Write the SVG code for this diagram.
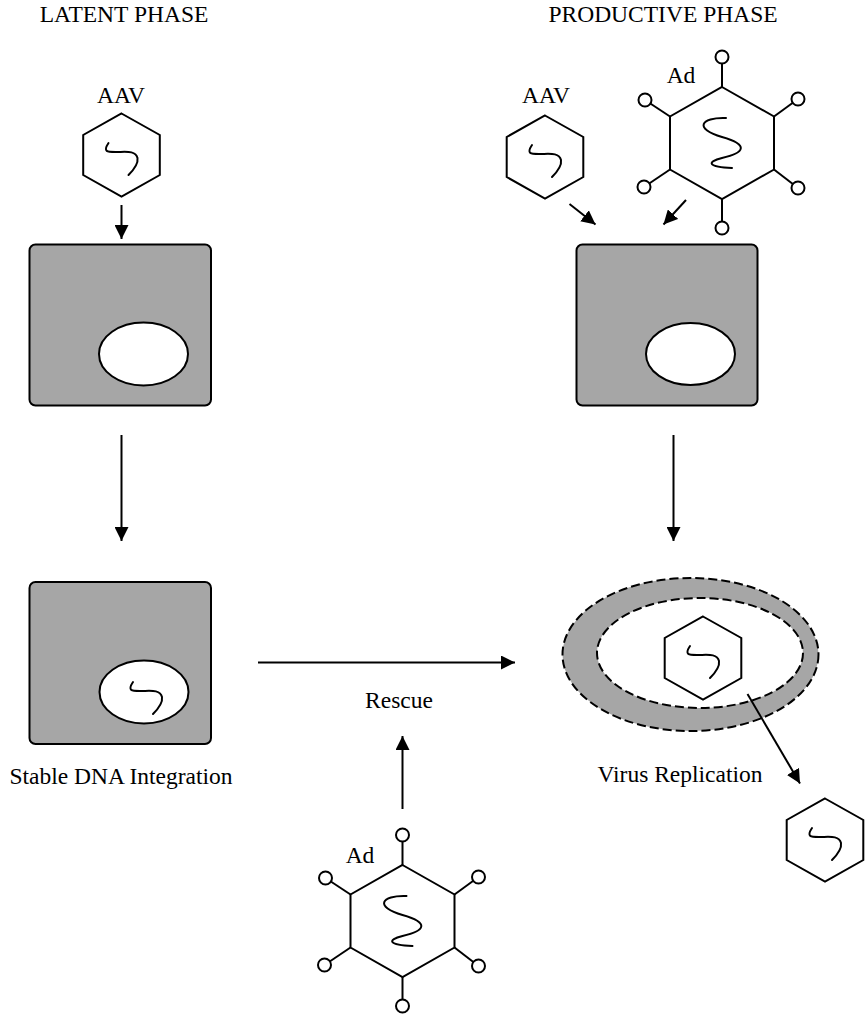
<svg xmlns="http://www.w3.org/2000/svg" xmlns:xlink="http://www.w3.org/1999/xlink" width="865" height="1017" viewBox="0 0 865 1017">
  <style>
    .lbl { font-family: "Liberation Serif", "Times New Roman", serif; font-size: 23.5px; fill: #000; text-anchor: middle; }
    .cell { fill: #a6a6a6; stroke: #000; stroke-width: 2; }
    .nuc { fill: #fff; stroke: #000; stroke-width: 2; }
    .hex { fill: #fff; stroke: #000; stroke-width: 2; }
    .dna { fill: none; stroke: #000; stroke-width: 2; stroke-linecap: round; }
    .knob { fill: #fff; stroke: #000; stroke-width: 2; }
    .stem { stroke: #000; stroke-width: 2; }
    .arrow { stroke: #000; stroke-width: 2; fill: none; marker-end: url(#head); }
    .ring { stroke: #000; stroke-width: 2; stroke-dasharray: 9 4; }
  </style>
  <defs>
    <marker id="head" markerUnits="userSpaceOnUse" markerWidth="16" markerHeight="14" refX="14" refY="7" orient="auto">
      <path d="M0,0 L14,7 L0,14 Z" fill="#000"/>
    </marker>
    <!-- small AAV genome squiggle -->
    <path id="squig" class="dna" d="M-13,-12 C-19,-3 -14,-3 -6,-3 C4,-3 14,-5 16,3 C17,9 12,15 7,20"/>
    <!-- AAV capsid -->
    <g id="aav">
      <polygon class="hex" points="0,-41.5 38.3,-20 38.3,20 0,41.5 -38.3,20 -38.3,-20"/>
      <use xlink:href="#squig"/>
    </g>
    <!-- adenovirus capsid with fibre knobs -->
    <g id="ad">
      <line class="stem" x1="0" y1="-56" x2="0" y2="-86"/>
      <line class="stem" x1="-52" y1="-26.5" x2="-77" y2="-43"/>
      <line class="stem" x1="52" y1="-26.5" x2="76" y2="-44"/>
      <line class="stem" x1="-52" y1="26.5" x2="-78" y2="44"/>
      <line class="stem" x1="52" y1="26.5" x2="76" y2="45"/>
      <line class="stem" x1="0" y1="56" x2="0" y2="85"/>
      <polygon class="hex" points="0,-56 52,-26.5 52,26.5 0,56 -52,26.5 -52,-26.5"/>
      <circle class="knob" cx="0" cy="-86" r="6.5"/>
      <circle class="knob" cx="-77" cy="-43" r="6.5"/>
      <circle class="knob" cx="76" cy="-44" r="6.5"/>
      <circle class="knob" cx="-78" cy="44" r="6.5"/>
      <circle class="knob" cx="76" cy="45" r="6.5"/>
      <circle class="knob" cx="0" cy="85" r="6.5"/>
      <path class="dna" d="M4,-25 C-22,-26 -28,-14 0,-6 C28,2 22,10 0,15 C-16,19 -14,24 10,25"/>
    </g>
  </defs>

  <!-- headings -->
  <text class="lbl" x="124" y="22">LATENT PHASE</text>
  <text class="lbl" x="663" y="22">PRODUCTIVE PHASE</text>

  <!-- latent phase: incoming AAV -->
  <g id="aav-latent">
    <text class="lbl" x="121" y="103">AAV</text>
    <use xlink:href="#aav" x="121.5" y="155"/>
  </g>

  <!-- latent phase: infected cell -->
  <g id="cell-latent">
    <rect class="cell" x="29.5" y="244.5" width="181.5" height="161" rx="6"/>
    <ellipse class="nuc" cx="143.5" cy="354" rx="44.5" ry="31.5"/>
  </g>

  <!-- latent phase: cell with integrated genome -->
  <g id="cell-integrated">
    <rect class="cell" x="29.5" y="582" width="181.5" height="162" rx="6"/>
    <ellipse class="nuc" cx="144" cy="692" rx="44.5" ry="31.5"/>
    <use xlink:href="#squig" x="146" y="694"/>
    <text class="lbl" x="121" y="784">Stable DNA Integration</text>
  </g>

  <!-- productive phase: incoming AAV -->
  <g id="aav-productive">
    <text class="lbl" x="546" y="103">AAV</text>
    <use xlink:href="#aav" x="545" y="157"/>
  </g>

  <!-- productive phase: helper adenovirus -->
  <g id="ad-productive">
    <text class="lbl" x="681" y="83">Ad</text>
    <use xlink:href="#ad" x="722" y="143"/>
  </g>

  <!-- productive phase: co-infected cell -->
  <g id="cell-productive">
    <rect class="cell" x="576.5" y="244.5" width="181" height="161" rx="6"/>
    <ellipse class="nuc" cx="690.5" cy="354" rx="44.5" ry="31"/>
  </g>

  <!-- productive phase: replicating nucleus -->
  <g id="replication">
    <ellipse class="ring" cx="690.5" cy="654.5" rx="128" ry="76.5" fill="#a6a6a6"/>
    <ellipse class="ring" cx="700" cy="653" rx="103" ry="55" fill="#fff"/>
    <use xlink:href="#aav" x="703" y="658"/>
    <text class="lbl" x="680" y="782">Virus Replication</text>
  </g>

  <!-- released AAV progeny -->
  <g id="aav-progeny">
    <use xlink:href="#aav" x="825" y="840"/>
  </g>

  <!-- rescuing adenovirus -->
  <g id="ad-rescue">
    <text class="lbl" x="360" y="863">Ad</text>
    <use xlink:href="#ad" x="402.5" y="921"/>
  </g>

  <!-- rescue label -->
  <g id="rescue">
    <text class="lbl" x="399" y="708">Rescue</text>
  </g>

  <!-- connectors -->
  <g id="connectors">
    <line class="arrow" x1="121.5" y1="205" x2="121.5" y2="239"/>
    <line class="arrow" x1="121.5" y1="435" x2="121.5" y2="541"/>
    <line class="arrow" x1="569.5" y1="204" x2="595.5" y2="224.5"/>
    <line class="arrow" x1="686" y1="200" x2="663.5" y2="224.5"/>
    <line class="arrow" x1="673.5" y1="435" x2="673.5" y2="541"/>
    <line class="arrow" x1="258" y1="662.5" x2="515" y2="662.5"/>
    <line class="arrow" x1="402.5" y1="809" x2="402.5" y2="736"/>
    <line class="arrow" x1="747.5" y1="694" x2="800" y2="783.5"/>
  </g>
</svg>
